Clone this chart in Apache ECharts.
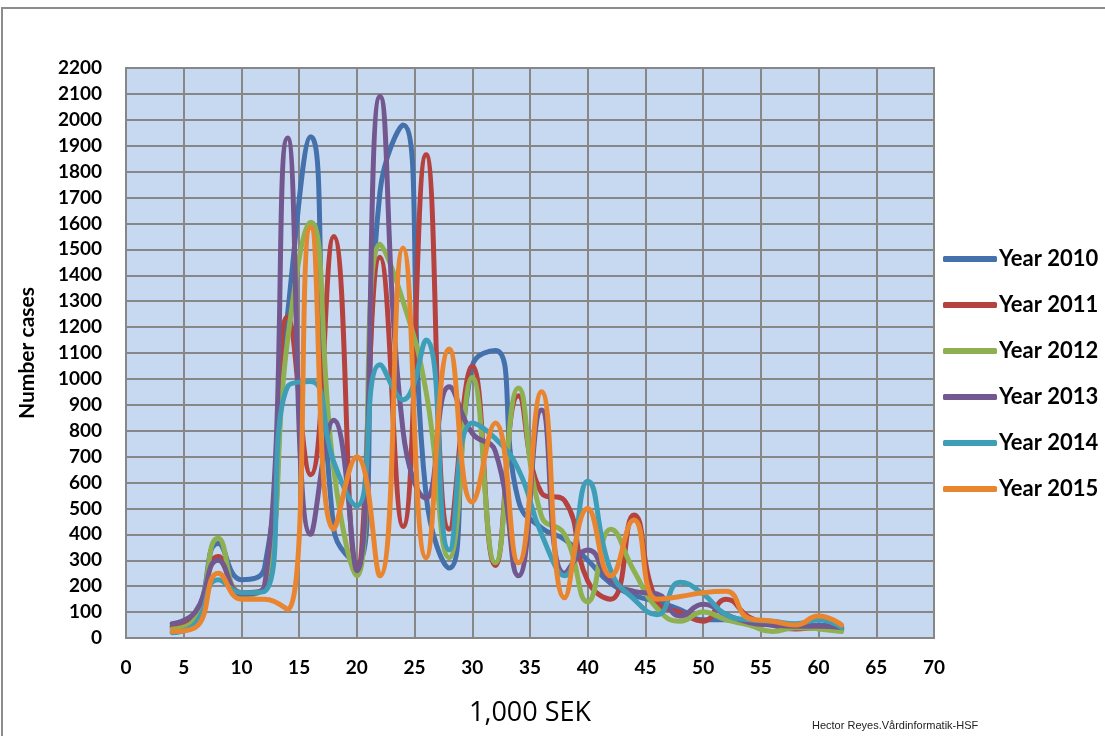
<!DOCTYPE html>
<html>
<head>
<meta charset="utf-8">
<script src="https://cdn.jsdelivr.net/npm/echarts@6/dist/echarts.min.js"></script>
<style>
html,body{margin:0;padding:0;background:#fff;}
#chart{width:1105px;height:736px;}
</style>
</head>
<body>
<div id="chart"></div>
<script>
// x values (1,000 SEK)
const xValues = [4,6,8,10,12,14,16,18,20,22,24,26,28,30,32,34,36,38,40,42,44,46,48,50,52,54,56,58,60,62];
const seriesNames = ["Year 2010","Year 2011","Year 2012","Year 2013","Year 2014","Year 2015"];
const year2010 = [45,85,365,225,270,1250,1935,420,290,1720,1980,550,270,1050,1110,530,425,380,300,210,165,140,110,70,70,60,50,45,50,35];
const year2011 = [40,80,315,175,190,1240,630,1550,270,1470,430,1865,420,1050,280,935,560,530,220,150,475,140,100,65,150,80,50,35,40,30];
const year2012 = [35,75,385,165,200,1150,1605,650,240,1520,1300,950,310,1005,290,965,470,400,140,420,260,115,65,100,70,50,25,40,35,25];
const year2013 = [55,100,300,170,200,1930,400,840,260,2090,800,540,970,790,720,240,880,250,340,220,180,170,85,130,90,60,50,45,45,40];
const year2014 = [20,55,225,175,180,970,990,680,510,1055,920,1150,340,830,770,650,400,240,605,260,150,90,215,170,90,70,65,55,70,40];
const year2015 = [25,40,250,150,150,110,1585,420,700,240,1505,310,1115,525,830,290,950,155,500,240,455,150,160,175,180,75,65,50,85,50];
const allValues = [year2010,year2011,year2012,year2013,year2014,year2015];
const colors = ["#4470AC","#B5423F","#8FB050","#73578F","#3E9DB7","#E9852F"];

const chart = echarts.init(document.getElementById('chart'));
const gridColor = '#878787';
const labelFont = 'Lato, "Open Sans", sans-serif';

const series = seriesNames.map((name,i)=>({
  name: name,
  type: 'line',
  smooth: 0.5,
  showSymbol: false,
  symbol: 'none',
  lineStyle: {width: 5, color: colors[i], cap:'round', join:'round'},
  itemStyle: {color: colors[i]},
  data: xValues.map((x,j)=>[x, allValues[i][j]])
}));

chart.setOption({
  animation: false,
  color: colors,
  graphic: [
    {type:'rect', shape:{x:2, y:8, width:1300, height:900}, style:{fill:'none', stroke:'#8c8c8c', lineWidth:2}},
    {type:'text', left: 812, top: 720, style:{text:'Hector Reyes.Vårdinformatik-HSF', font:'11px "Liberation Sans", sans-serif', fill:'#222'}}
  ],
  grid: {left:126, right:171, top:68, bottom:98, show:true, backgroundColor:'#C6D9F1', borderColor:gridColor, borderWidth:2},
  legend: {
    orient:'vertical', left:938, top:243, itemWidth:54, itemHeight:6, itemGap:24,
    icon:'roundRect',
    textStyle:{fontFamily:labelFont, fontWeight:'bold', fontSize:22, color:'#000', padding:[0,0,0,-3]},
    data: seriesNames
  },
  xAxis: {
    type:'value', min:0, max:70, interval:5,
    name:'1,000 SEK', nameLocation:'middle', nameGap:62,
    nameTextStyle:{fontFamily:'"Open Sans", sans-serif', fontSize:27, color:'#000'},
    axisLine:{show:true, lineStyle:{color:gridColor, width:2}},
    axisTick:{show:false},
    axisLabel:{fontFamily:labelFont, fontWeight:'bold', fontSize:19, color:'#000', margin:20},
    splitLine:{show:true, lineStyle:{color:gridColor, width:2}}
  },
  yAxis: {
    type:'value', min:0, max:2200, interval:100,
    name:'Number cases', nameLocation:'middle', nameGap:88, nameRotate:90,
    nameTextStyle:{fontFamily:labelFont, fontWeight:'bold', fontSize:21, color:'#000'},
    axisLine:{show:true, lineStyle:{color:gridColor, width:2}},
    axisTick:{show:false},
    axisLabel:{fontFamily:labelFont, fontWeight:'bold', fontSize:19, color:'#000', margin:24,
      formatter: function(v){ return String(v); }},
    splitLine:{show:true, lineStyle:{color:gridColor, width:2}}
  },
  series: series
});
</script>
</body>
</html>
